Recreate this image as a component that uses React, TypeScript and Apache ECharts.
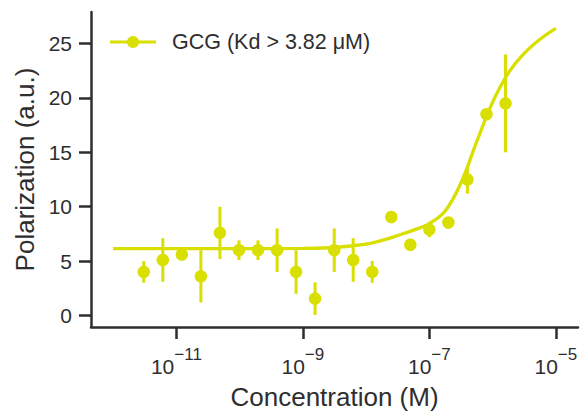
import React, { useEffect, useRef } from "react";
import * as echarts from "echarts";

// Concentrations (M), 2-fold dilution series
const concentrations = [
  3.05e-12, 6.1e-12, 1.22e-11, 2.44e-11, 4.88e-11, 9.77e-11, 1.95e-10, 3.91e-10,
  7.81e-10, 1.56e-9, 3.13e-9, 6.25e-9, 1.25e-8, 2.5e-8, 5e-8, 1e-7, 2e-7, 4e-7,
  8e-7, 1.6e-6,
];
// Mean polarization (a.u.)
const polarization = [
  4.0, 5.1, 5.6, 3.6, 7.6, 6.0, 6.0, 6.0, 4.0, 1.55, 6.0, 5.1, 4.0, 9.05, 6.5,
  7.9, 8.55, 12.5, 18.5, 19.5,
];
// Error (± a.u.)
const errors = [
  1.0, 2.0, 0.4, 2.4, 2.4, 0.9, 0.9, 2.0, 2.0, 1.5, 2.0, 2.0, 1.0, 0.3, 0.3, 0.7,
  0.3, 1.3, 0.3, 4.5,
];
// Fitted binding curve: log10(conc) and polarization
const curveLogConc = [
  -12, -11, -10, -9, -8.5, -8, -7.75, -7.5, -7.25, -7, -6.75, -6.5, -6.25, -6,
  -5.75, -5.5, -5.25, -5,
];
const curvePolarization = [
  6.15, 6.15, 6.15, 6.17, 6.25, 6.55, 6.9, 7.35, 7.85, 8.45, 9.6, 12.2, 16.0,
  19.6, 22.3, 24.1, 25.4, 26.4,
];
const xTickExponents = [-11, -9, -7, -5];
const yTicks = [0, 5, 10, 15, 20, 25];
const legendLabel = "GCG (Kd > 3.82 μM)";
const xTitle = "Concentration (M)";
const yTitle = "Polarization (a.u.)";

const COLOR = "#d9df00";
const INK = "#2e2e2e";
const FONT = "'Liberation Sans', Arial, sans-serif";

export default function App() {
  const ref = useRef<HTMLDivElement>(null);
  useEffect(() => {
    if (!ref.current) return;
    const chart = echarts.init(ref.current, undefined, { renderer: "svg" });
    const points = concentrations.map((c, i) => [
      Math.log10(c),
      polarization[i],
      errors[i],
    ]);
    const curve = curveLogConc.map((u, i) => [u, curvePolarization[i]]);
    const option: any = {
      animation: false,
      textStyle: { fontFamily: FONT },
      grid: {
        left: 91,
        right: 5,
        top: 12,
        bottom: 88,
        containLabel: false,
        outerBoundsMode: "none",
      },
      xAxis: {
        type: "value",
        min: -12.35,
        max: -4.65,
        name: xTitle,
        nameLocation: "middle",
        nameGap: 57,
        nameTextStyle: { fontSize: 26, color: INK, fontFamily: FONT },
        axisLine: { show: true, onZero: false, lineStyle: { color: INK, width: 2.5 } },
        axisTick: {
          show: true,
          length: 12,
          customValues: xTickExponents,
          lineStyle: { color: INK, width: 2.5 },
        },
        axisLabel: {
          customValues: xTickExponents,
          margin: 19,
          color: INK,
          formatter: (v: number) => `{b|10}{s|−${Math.abs(v)}}`,
          rich: {
            b: { fontSize: 21, lineHeight: 31, verticalAlign: "bottom", color: INK, fontFamily: FONT },
            s: { fontSize: 17, verticalAlign: "top", color: INK, fontFamily: FONT },
          },
        },
        splitLine: { show: false },
      },
      yAxis: {
        type: "value",
        min: -1.06,
        max: 27.9,
        name: yTitle,
        nameLocation: "middle",
        nameGap: 53,
        nameTextStyle: { fontSize: 26, color: INK, fontFamily: FONT },
        axisLine: { show: true, onZero: false, lineStyle: { color: INK, width: 2.5 } },
        axisTick: {
          show: true,
          length: 12,
          customValues: yTicks,
          lineStyle: { color: INK, width: 2.5 },
        },
        axisLabel: {
          customValues: yTicks,
          margin: 19,
          fontSize: 21,
          color: INK,
          fontFamily: FONT,
        },
        splitLine: { show: false },
      },
      graphic: [
        {
          type: "line",
          shape: { x1: 110, y1: 42, x2: 156, y2: 42 },
          style: { stroke: COLOR, lineWidth: 3 },
        },
        {
          type: "circle",
          shape: { cx: 133, cy: 42, r: 6 },
          style: { fill: COLOR },
        },
        {
          type: "text",
          x: 172,
          y: 42,
          style: {
            text: legendLabel,
            fontSize: 21.5,
            fontFamily: FONT,
            fill: INK,
            verticalAlign: "middle",
          },
        },
      ],
      series: [
        {
          type: "line",
          data: curve,
          smooth: 0.4,
          showSymbol: false,
          lineStyle: { color: COLOR, width: 3.3 },
          z: 2,
        },
        {
          type: "custom",
          data: points,
          encode: { x: 0, y: 1 },
          renderItem: (_params: any, api: any) => {
            const x = api.value(0);
            const y = api.value(1);
            const e = api.value(2);
            const p1 = api.coord([x, y - e]);
            const p2 = api.coord([x, y + e]);
            return {
              type: "line",
              shape: { x1: p1[0], y1: p1[1], x2: p2[0], y2: p2[1] },
              style: { stroke: COLOR, lineWidth: 3 },
            };
          },
          z: 3,
        },
        {
          type: "scatter",
          data: points.map((p) => [p[0], p[1]]),
          symbol: "circle",
          symbolSize: 12.5,
          itemStyle: { color: COLOR, opacity: 1 },
          z: 4,
        },
      ],
    };
    chart.setOption(option);
    return () => chart.dispose();
  }, []);
  return (
    <div
      ref={ref}
      style={{ position: "fixed", left: 0, top: 0, width: 583, height: 415, background: "#fff" }}
    />
  );
}
